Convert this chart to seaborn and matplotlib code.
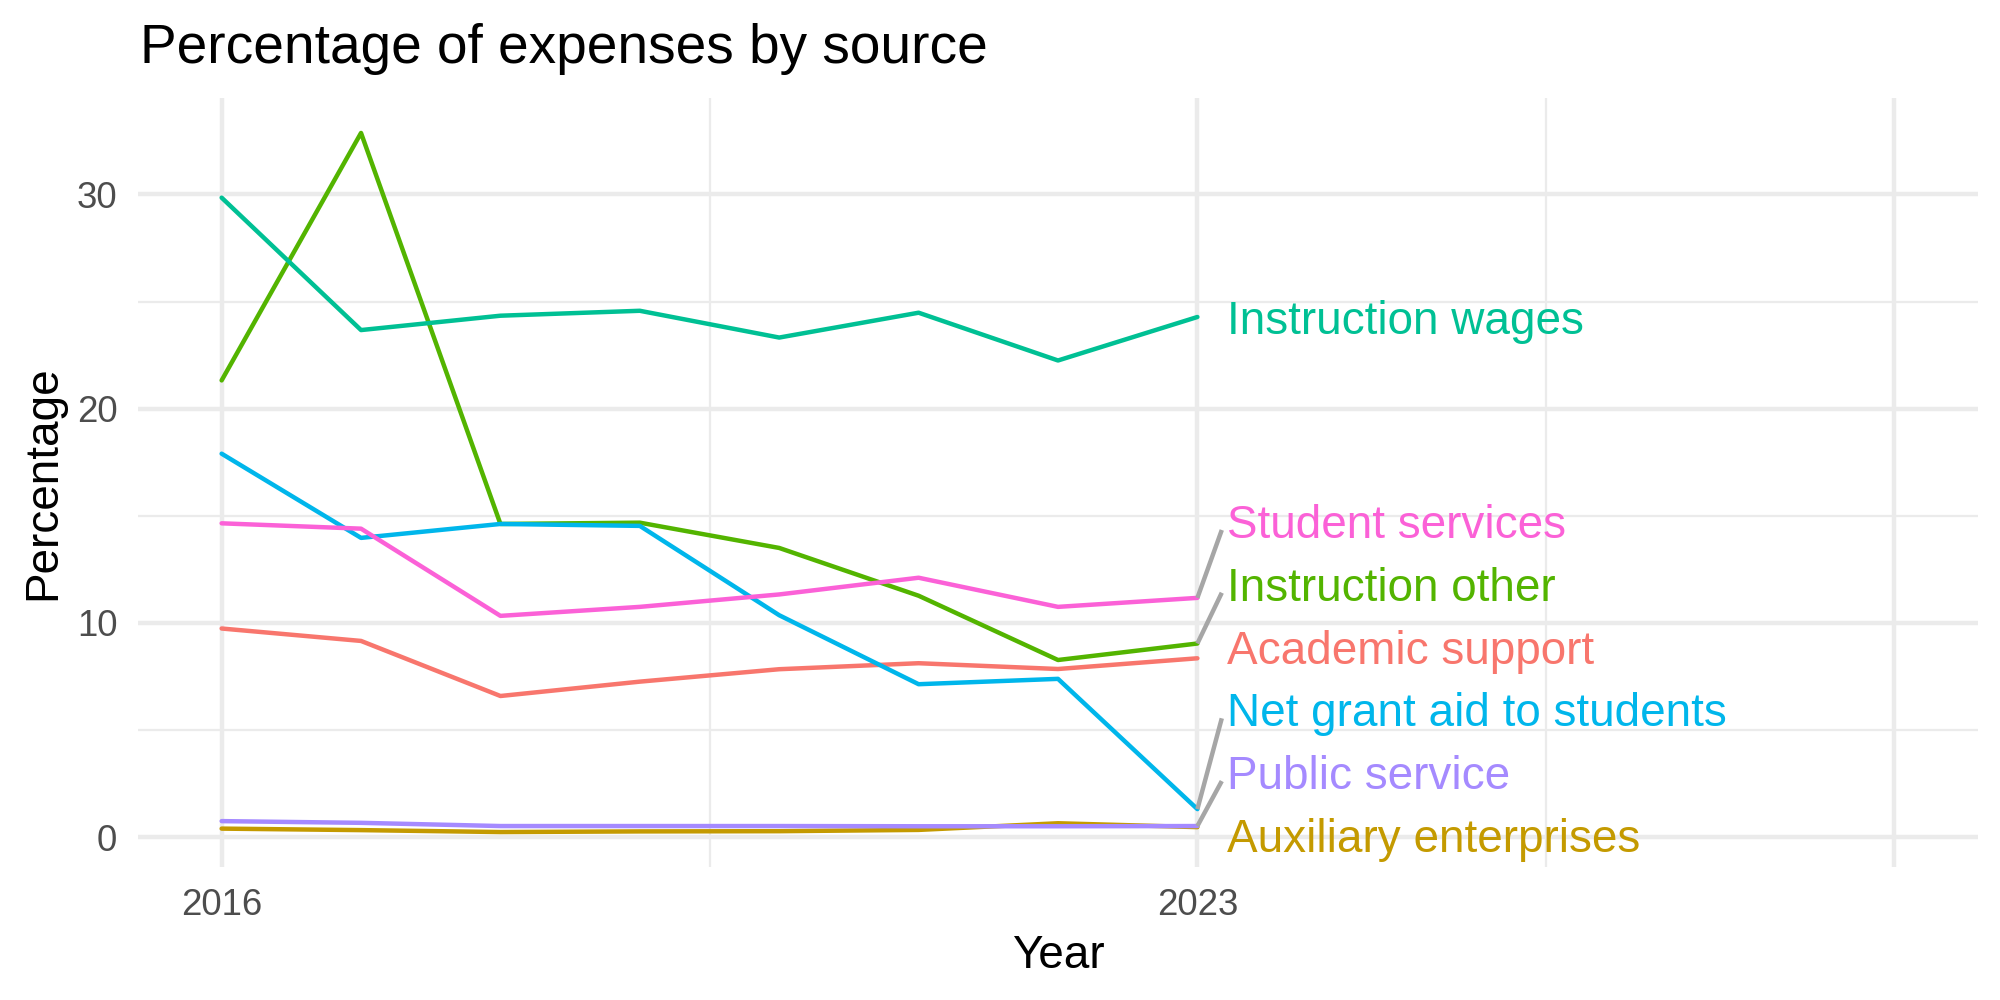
import numpy as np
import pandas as pd
import matplotlib
matplotlib.use("Agg")
import matplotlib.pyplot as plt
import seaborn as sns

# ---------------- data ----------------
years = [2016, 2017, 2018, 2019, 2020, 2021, 2022, 2023]
academic_support = [9.74, 9.16, 6.59, 7.26, 7.84, 8.12, 7.85, 8.35]
auxiliary_enterprises = [0.40, 0.33, 0.24, 0.27, 0.28, 0.34, 0.65, 0.47]
instruction_other = [21.32, 32.87, 14.62, 14.68, 13.50, 11.27, 8.27, 9.04]
instruction_wages = [29.85, 23.67, 24.34, 24.57, 23.32, 24.48, 22.25, 24.28]
net_grant_aid = [17.90, 13.97, 14.62, 14.53, 10.36, 7.14, 7.39, 1.31]
public_service = [0.75, 0.67, 0.52, 0.52, 0.52, 0.51, 0.51, 0.52]
student_services = [14.65, 14.40, 10.33, 10.75, 11.33, 12.11, 10.75, 11.17]

sources = ["Academic support", "Auxiliary enterprises", "Instruction other",
           "Instruction wages", "Net grant aid to students", "Public service",
           "Student services"]
series = [academic_support, auxiliary_enterprises, instruction_other,
          instruction_wages, net_grant_aid, public_service, student_services]
colors = ["#F8766D", "#C49A00", "#53B400", "#00C094", "#00B6EB", "#A58AFF", "#FB61D7"]

x_breaks = [2016, 2023, 2028]
x_labels = ["2016", "2023", ""]
y_breaks = [0, 10, 20, 30]

title = "Percentage of expenses by source"
x_title = "Year"
y_title = "Percentage"

# ---------------- build long table ----------------
rows = []
for name, vals in zip(sources, series):
    for yr, v in zip(years, vals):
        rows.append({"Year": yr, "Percentage": v, "Source": name})
df = pd.DataFrame(rows)
palette = dict(zip(sources, colors))

# ---------------- figure ----------------
sns.set_style("white")
plt.rcParams["font.family"] = ["Liberation Sans", "DejaVu Sans"]

W, H, DPI = 2000, 1000, 300
fig = plt.figure(figsize=(W / DPI, H / DPI), dpi=DPI)
left, right, top, bottom = 138, 1978, 98, 867
ax = fig.add_axes([left / W, 1 - bottom / H, (right - left) / W, (bottom - top) / H])

grid_col = "#EBEBEB"
lw = 1.07

sns.lineplot(data=df, x="Year", y="Percentage", hue="Source", hue_order=sources,
             palette=palette, linewidth=lw, legend=False, errorbar=None, ax=ax,
             zorder=2)

# scales (ggplot-like 5% expansion)
xmin, xmax = x_breaks[0], x_breaks[-1]
xs = xmax - xmin
ax.set_xlim(xmin - 0.05 * xs, xmax + 0.05 * xs)
allv = np.concatenate([np.array(s) for s in series])
ymin, ymax = allv.min(), allv.max()
ys = ymax - ymin
ax.set_ylim(ymin - 0.05 * ys, ymax + 0.05 * ys)

ax.set_xticks(x_breaks)
ax.set_xticklabels(x_labels)
ax.set_xticks([(a + b) / 2 for a, b in zip(x_breaks[:-1], x_breaks[1:])], minor=True)
ax.set_yticks(y_breaks)
ax.set_yticklabels([str(v) for v in y_breaks])
ax.set_yticks([(a + b) / 2 for a, b in zip(y_breaks[:-1], y_breaks[1:])], minor=True)

ax.grid(which="major", color=grid_col, linewidth=lw)
ax.grid(which="minor", color=grid_col, linewidth=lw / 2)
ax.set_axisbelow(True)
for s in ax.spines.values():
    s.set_visible(False)
ax.tick_params(which="both", length=0, pad=4.95, labelsize=8.8, labelcolor="#4D4D4D")

ax.set_xlabel(x_title, fontsize=11, labelpad=2.75, color="black")
ax.set_ylabel(y_title, fontsize=11, labelpad=2.75, color="black")

fig.text((left + 2) / W, 1 - 62.7 / H, title, fontsize=13.2, ha="left", va="baseline",
         color="black")

# ---------------- repelled end labels ----------------
last_vals = np.array([s[-1] for s in series])
last_x = years[-1]
gap = 2.93
lo = ax.get_ylim()[0] + 1.5


def repel(values, gap, lo):
    order = np.argsort(values)
    targets = [values[i] - k * gap for k, i in enumerate(order)]
    blocks = []  # [sum, count]
    for t in targets:
        blocks.append([t, 1])
        while len(blocks) > 1 and blocks[-2][0] / blocks[-2][1] > blocks[-1][0] / blocks[-1][1]:
            s, c = blocks.pop()
            blocks[-1][0] += s
            blocks[-1][1] += c
    q = []
    for s, c in blocks:
        q += [max(s / c, lo)] * c
    pos = np.empty(len(values))
    for k, i in enumerate(order):
        pos[i] = q[k] + k * gap
    return pos


centers = repel(last_vals, gap, lo)
text_x = last_x + 0.215
seg_x = last_x + 0.175
for name, col, v, c in zip(sources, colors, last_vals, centers):
    if abs(c - v) > 1.0:
        ax.plot([last_x, seg_x], [v, c - 0.42], color="#A6A6A6", linewidth=lw,
                solid_capstyle="butt", zorder=3)
    ax.text(text_x, c - 0.8, name, color=col, fontsize=11.0, ha="left",
            va="baseline", zorder=4)

fig.savefig("out.png", dpi=DPI, facecolor="white")
